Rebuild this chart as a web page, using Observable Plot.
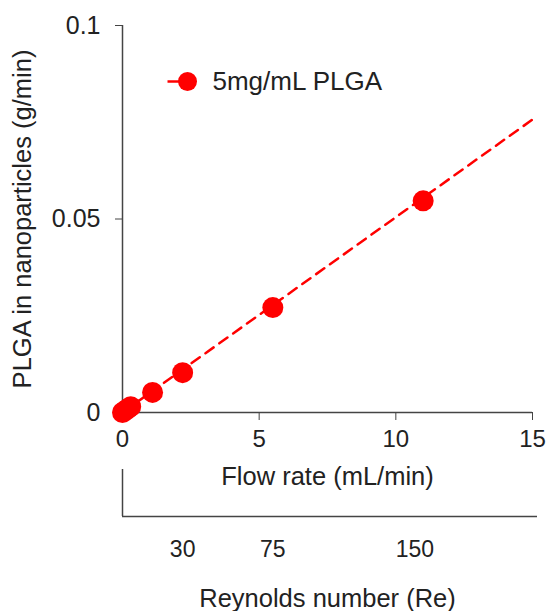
<!DOCTYPE html>
<html><head><meta charset="utf-8">
<script src="https://cdn.jsdelivr.net/npm/d3@7"></script>
<script src="https://cdn.jsdelivr.net/npm/@observablehq/plot@0.6"></script>
<style>
body{margin:0;background:#fff}
#chart svg{display:block}
</style>
</head><body><div id="chart"></div>
<script>
// Data
const flowRate = [0, 0.1, 0.2, 0.3, 1.1, 2.2, 5.5, 11];
const plgaRate = [0, 0.0005, 0.001, 0.0015, 0.0052, 0.0103, 0.0271, 0.0547];
const fitFlow = [0, 15];
const fitPlga = [0, 0.0757];
const xTicks = [0, 5, 10, 15];
const yTicks = [0, 0.05, 0.1];
const yTickLabels = ["0", "0.05", "0.1"];
const reTicks = ["30", "75", "150"];
const reFlowPos = [2.2, 5.5, 10.7];
const seriesName = "5mg/mL PLGA";
const xTitle = "Flow rate (mL/min)";
const yTitle = "PLGA in nanoparticles (g/min)";
const reTitle = "Reynolds number (Re)";

const points = flowRate.map((f, i) => ({f, p: plgaRate[i]}));
const fit = fitFlow.map((f, i) => ({f, p: fitPlga[i]}));

const RED = "#ff0000";
const AX = "#444";
const FONT = "'Liberation Sans', Arial, sans-serif";

const dashSymbol = {draw(ctx) { ctx.moveTo(-20, 0); ctx.lineTo(-8, 0); }};

const main = Plot.plot({
  width: 548, height: 469,
  marginTop: 25, marginBottom: 57, marginLeft: 122, marginRight: 16,
  style: {fontFamily: FONT, fontSize: "24px", color: "#333", overflow: "visible", background: "transparent"},
  x: {domain: [0, 15]},
  y: {domain: [0, 0.1]},
  marks: [
    Plot.axisX({ticks: xTicks, tickSize: 8, tickPadding: 9, label: null, fontSize: 24, stroke: AX, fill: "#222"}),
    Plot.axisY({ticks: yTicks, tickFormat: d => yTickLabels[yTicks.indexOf(d)], tickSize: 7, tickPadding: 15, label: null, fontSize: 25, stroke: AX, fill: "#222"}),
    Plot.ruleX([0], {stroke: AX, strokeWidth: 1.5}),
    Plot.ruleY([0], {stroke: AX, strokeWidth: 1.5}),
    Plot.line(fit, {x: "f", y: "p", stroke: RED, strokeWidth: 2.5, strokeDasharray: "10,7"}),
    Plot.dot(points, {x: "f", y: "p", r: 10.5, fill: RED}),
    Plot.dot([seriesName], {frameAnchor: "top-left", dx: 65, dy: 56, symbol: dashSymbol, stroke: RED, strokeWidth: 2.5, fill: "none", r: 5}),
    Plot.dot([seriesName], {frameAnchor: "top-left", dx: 65, dy: 56, r: 9.5, fill: RED}),
    Plot.text([seriesName], {frameAnchor: "top-left", dx: 90, dy: 56, text: d => d, textAnchor: "start", lineAnchor: "middle", fontSize: 26, fill: "#222"}),
    Plot.text([xTitle], {frameAnchor: "bottom", dy: 64, text: d => d, lineAnchor: "middle", fontSize: 25.5, fill: "#222"}),
    Plot.text([yTitle], {frameAnchor: "left", dx: -100, rotate: -90, text: d => d, textAnchor: "middle", lineAnchor: "middle", fontSize: 25.5, fill: "#222"})
  ]
});

const re = Plot.plot({
  width: 548, height: 142,
  marginTop: 0, marginBottom: 95, marginLeft: 122, marginRight: 16,
  style: {fontFamily: FONT, fontSize: "23px", color: "#333", overflow: "visible", background: "transparent"},
  x: {domain: [0, 15], axis: null},
  y: {domain: [0, 1], axis: null},
  marks: [
    Plot.ruleX([0], {stroke: AX, strokeWidth: 1.5}),
    Plot.ruleY([0], {stroke: AX, strokeWidth: 1.5, insetRight: -5}),
    Plot.text(reTicks, {x: (d, i) => reFlowPos[i], frameAnchor: "bottom", dy: 33, text: d => d, lineAnchor: "middle", fontSize: 23, fill: "#222"}),
    Plot.text([reTitle], {frameAnchor: "bottom", dy: 82, text: d => d, lineAnchor: "middle", fontSize: 25.5, fill: "#222"})
  ]
});

document.getElementById("chart").append(main, re);
</script>
</body></html>
